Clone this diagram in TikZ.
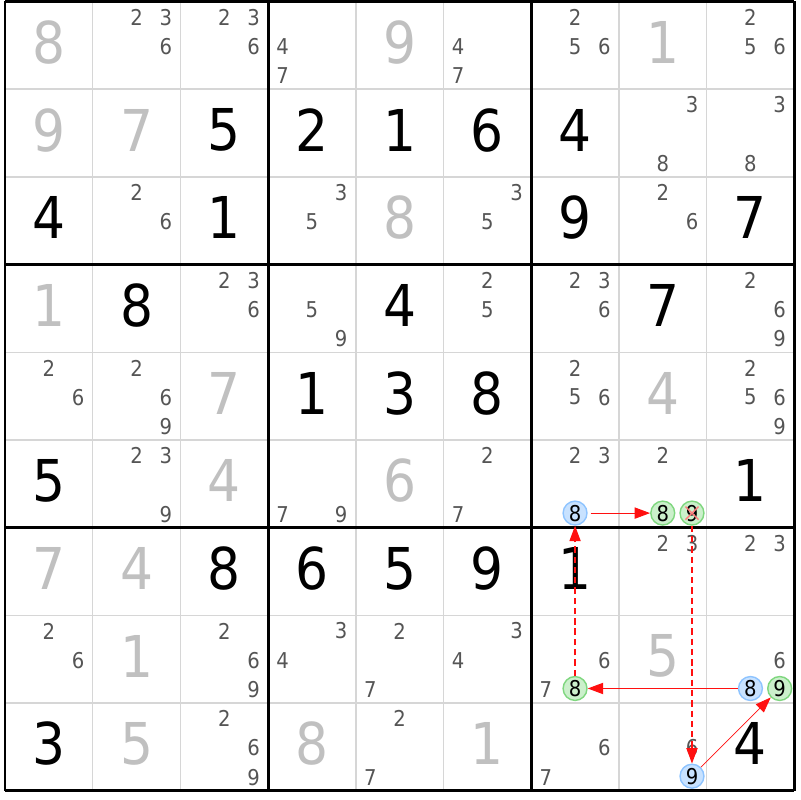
\documentclass[tikz,border=0pt]{standalone}
\usepackage{fontspec}
\setmainfont{DejaVu Sans Condensed}
\usetikzlibrary{arrows.meta}
\definecolor{givengray}{HTML}{C0C0C0}
\definecolor{candgray}{HTML}{555555}
\definecolor{thingray}{HTML}{D6D6D6}
\definecolor{linkred}{HTML}{FF1010}
\definecolor{onblue}{HTML}{C8E2FF}
\definecolor{onblueline}{HTML}{8EC4FF}
\definecolor{offgreen}{HTML}{CBF0CB}
\definecolor{offgreenline}{HTML}{7FD77F}
\tikzset{
  given/.style={text=givengray,font=\fontsize{41}{41}\selectfont,inner sep=0pt},
  solved/.style={given,text=black},
  cand/.style={text=candgray,font=\fontsize{15.5}{15.5}\selectfont,inner sep=0pt},
  oncand/.style={circle,draw=onblueline,fill=onblue,line width=1pt,minimum size=17pt,inner sep=0pt,font=\fontsize{15.5}{15.5}\selectfont},
  offcand/.style={oncand,draw=offgreenline,fill=offgreen},
  strong/.style={linkred,line width=0.8pt,-{Triangle[length=11pt,width=8pt]}},
  weak/.style={strong,dash pattern=on 4.5pt off 2.8pt},
}
\begin{document}
\begin{tikzpicture}[x=0.025cm,y=-0.025cm]
	\def\cs{87.7}
	\def\ox{5}
	\def\oy{1.5}
	\useasboundingbox (0,0) rectangle (800,800);
	\fill[white] (0,0) rectangle (800,800);
	% grid
	\foreach \i in {1,2,4,5,7,8} {
		\draw[thingray,line width=1pt] ({\ox+\i*\cs},\oy) -- ++(0,{9*\cs});
		\draw[thingray,line width=1pt] (\ox,{\oy+\i*\cs}) -- ++({9*\cs},0);
	}
	\foreach \i in {0,3,6,9} {
		\draw[line width=2.1pt] ({\ox+\i*\cs},\oy) -- ++(0,{9*\cs});
		\draw[line width=2.1pt] (\ox,{\oy+\i*\cs}) -- ++({9*\cs},0);
	}
	% givens and solved cells
	\foreach \row/\col/\v in {1/1/8,1/5/9,1/8/1,2/1/9,2/2/7,3/5/8,4/1/1,5/3/7,5/8/4,6/3/4,6/5/6,7/1/7,7/2/4,8/2/1,8/8/5,9/2/5,9/4/8,9/6/1}
		\node[given] (g\row\col) at ({\ox+(\col-0.5)*\cs},{\oy+(\row-0.5)*\cs-3}) {\v};
	\foreach \row/\col/\v in {2/3/5,2/4/2,2/5/1,2/6/6,2/7/4,3/1/4,3/3/1,3/7/9,3/9/7,4/2/8,4/5/4,4/8/7,5/4/1,5/5/3,5/6/8,6/1/5,6/9/1,7/3/8,7/4/6,7/5/5,7/6/9,7/7/1,9/1/3,9/9/4}
		\node[solved] (s\row\col) at ({\ox+(\col-0.5)*\cs},{\oy+(\row-0.5)*\cs-3}) {\v};
	% pencil marks
	\foreach \row/\col/\ds in {1/2/{2,3,6},1/3/{2,3,6},1/4/{4,7},1/6/{4,7},1/7/{2,5,6},1/9/{2,5,6},
		2/8/{3,8},2/9/{3,8},3/2/{2,6},3/4/{3,5},3/6/{3,5},3/8/{2,6},
		4/3/{2,3,6},4/4/{5,9},4/6/{2,5},4/7/{2,3,6},4/9/{2,6,9},
		5/1/{2,6},5/2/{2,6,9},5/7/{2,5,6},5/9/{2,5,6,9},
		6/2/{2,3,9},6/4/{7,9},6/6/{2,7},6/7/{2,3},6/8/{2},
		7/8/{2,3},7/9/{2,3},8/1/{2,6},8/3/{2,6,9},8/4/{3,4},8/5/{2,7},8/6/{3,4},8/7/{6,7},8/9/{6},
		9/3/{2,6,9},9/5/{2,7},9/7/{6,7},9/8/{6}}
		\foreach \d in \ds
			\node[cand] (k\row\col\d) at ({\ox+(\col-1)*\cs+(mod(\d-1,3)+0.5)*\cs/3},{\oy+(\row-1)*\cs+(floor((\d-1)/3+0.1)+0.5)*\cs/3+1}) {\d};
	% chain
	\foreach \row/\col/\d/\s in {6/7/8/oncand,6/8/8/offcand,6/8/9/offcand,8/7/8/offcand,8/9/8/oncand,8/9/9/offcand,9/8/9/oncand}
		\node[\s] (c\row\col\d) at ({\ox+(\col-1)*\cs+(mod(\d-1,3)+0.5)*\cs/3},{\oy+(\row-1)*\cs+(floor((\d-1)/3+0.1)+0.5)*\cs/3}) {\d};
	\draw[linkred!55,line width=1pt,shorten <=2.5pt,shorten >=2.5pt] (c689.45) -- (c689.225);
	\draw[linkred!55,line width=1pt,shorten <=2.5pt,shorten >=2.5pt] (c689.135) -- (c689.315);
	\draw[strong,shorten <=2pt] (c678) -- (c688);
	\draw[weak] (c689) -- (c989);
	\draw[strong,line width=0.5pt] (c989) -- (c899);
	\draw[strong] (c898) -- (c878);
	\draw[weak] (c878) -- (c678);
\end{tikzpicture}
\end{document}
